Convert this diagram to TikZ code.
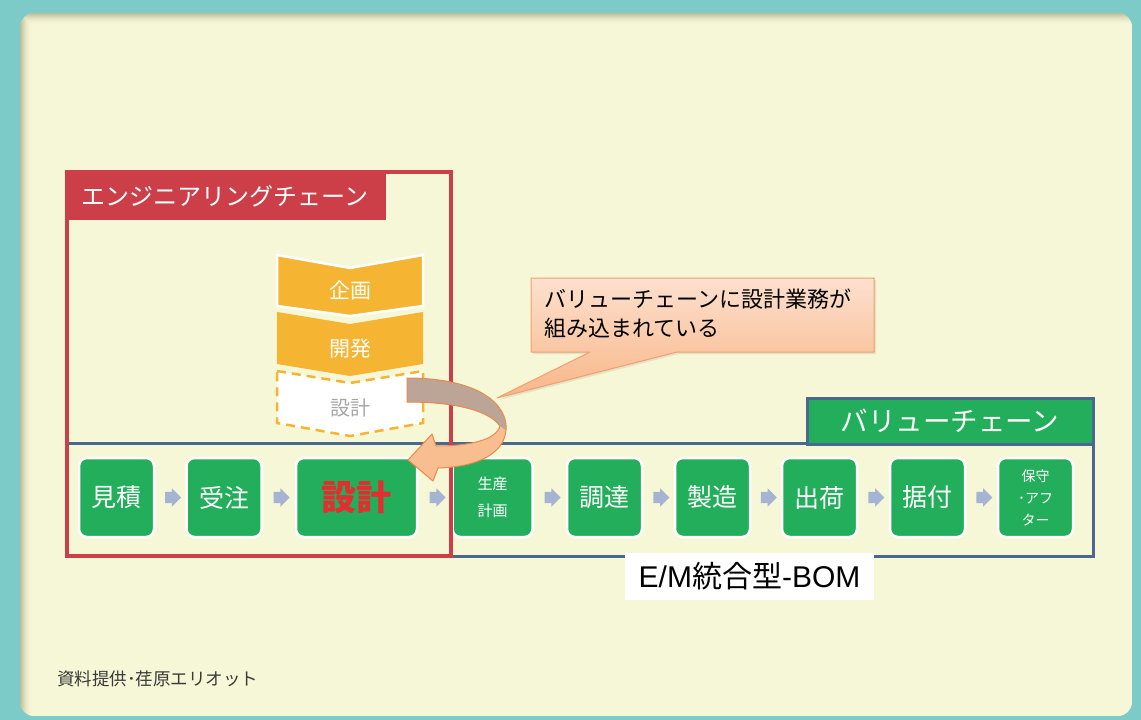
\documentclass[tikz,border=0pt]{standalone}
\usepackage{fontspec}
\setmainfont{Noto Sans CJK JP}
\newfontfamily\lib{Liberation Sans}
\usetikzlibrary{shapes.arrows,calc}
\definecolor{cteal}{HTML}{7CCBC8}
\definecolor{ccream}{HTML}{F6F7D6}
\definecolor{cshadow}{HTML}{8E8C6A}
\definecolor{cred}{HTML}{CC3F48}
\definecolor{cblue}{HTML}{4A6790}
\definecolor{cgreen}{HTML}{22AE5A}
\definecolor{corange}{HTML}{F5B431}
\definecolor{carrow}{HTML}{A6B4D4}
\definecolor{ccalltop}{HTML}{FDE0CE}
\definecolor{ccallbot}{HTML}{F8B687}
\definecolor{ccallline}{HTML}{F0A070}
\definecolor{cback}{HTML}{BCA597}
\definecolor{cfront}{HTML}{F9BE90}
\definecolor{cbandline}{HTML}{EA8A4E}
\definecolor{cdesign}{HTML}{E52D2F}
\definecolor{cgraytext}{HTML}{A6A6A6}
\definecolor{cfoot}{HTML}{3A3A3A}
\tikzset{
  gbox/.style={draw=white, line width=2.5pt, fill=cgreen, rounded corners=8pt,
    minimum height=79pt, minimum width=75pt, text=white, inner sep=0pt,
    font=\fontsize{25}{30}\selectfont},
  flowarrow/.style={single arrow, fill=carrow, draw=none, minimum height=16pt,
    inner xsep=0pt, inner ysep=5.5pt, single arrow head extend=3.5pt,
    single arrow head indent=0pt},
  chev/.style={fill=corange, draw=white, line width=2.5pt, line join=miter},
  chevtext/.style={text=white, font=\fontsize{21}{25}\selectfont, inner sep=0pt},
}
\begin{document}
\begin{tikzpicture}[x=1pt,y=-1pt]
\useasboundingbox (0,0) rectangle (1141,720);
\fill[cteal] (0,0) rectangle (1141,720);
% panel
\begin{scope}
  \clip[rounded corners=14pt] (20,13) rectangle (1132,716);
  \fill[ccream] (20,13) rectangle (1132,716);
  \foreach \i in {0,...,11}{
    \pgfmathsetmacro{\op}{0.55*(1-\i/12)^2}
    \draw[cshadow, line width=1pt, opacity=\op] (20.5+\i,716) -- (20.5+\i,13.5+\i) -- (1132,13.5+\i);
  }
\end{scope}

% value chain frame
\draw[cblue, line width=3pt] (67,443) rectangle (1093,556);
\node[fill=cgreen, draw=cblue, line width=3pt, minimum width=286pt, minimum height=46pt,
  text=white, font=\fontsize{27.5}{30}\selectfont, inner sep=0pt] (vctab) at (950,421) {バリューチェーン};

% green process boxes
\node[gbox] (b1) at (116.5,497.5) {見積};
\node[gbox] (b2) at (224,497.5) {受注};
\node[gbox, minimum width=121pt, text=cdesign, font=\fontsize{35}{40}\selectfont\bfseries] (b3) at (356.5,497.5) {設計};
\node[gbox, minimum width=80pt, align=center, font=\fontsize{15}{27}\selectfont] (b4) at (492.5,497.5) {生産\\計画};
\node[gbox] (b5) at (604.5,497.5) {調達};
\node[gbox] (b6) at (712.5,497.5) {製造};
\node[gbox] (b7) at (819.5,497.5) {出荷};
\node[gbox] (b8) at (927.5,497.5) {据付};
\node[gbox, align=center, font=\fontsize{14}{22}\selectfont] (b9) at (1035.5,497.5) {保守\\･アフ\\ター};

\foreach \a/\b in {b1/b2,b2/b3,b3/b4,b4/b5,b5/b6,b6/b7,b7/b8,b8/b9}{
  \node[flowarrow] (arr-\a) at ($(\a.east)!0.5!(\b.west)$) {};
}

% E/M label
\node[fill=white, minimum width=249pt, minimum height=47pt, inner sep=0pt,
  font=\fontsize{30}{34}\selectfont, text=black] (bom) at (749.5,576)
  {{\lib E/M}統合型{\lib -BOM}};

% engineering chain frame
\draw[cred, line width=3.5pt] (67,172) rectangle (451,556);
\fill[cred] (67,172) rectangle (386,220);
\node[anchor=west, text=white, font=\fontsize{24}{28}\selectfont, inner sep=0pt] (ectitle) at (81,196) {エンジニアリングチェーン};

% chevrons
\draw[chev] (277,255) -- (350,268) -- (423,255) -- (423,306) -- (350,316) -- (277,306) -- cycle;
\fill[corange] (277,312) -- (350,324) -- (423,312) -- (423,364) -- (350,376) -- (277,364) -- cycle;
\draw[fill=white, draw=corange, line width=2.5pt, dash pattern=on 9pt off 6pt]
  (277,371) -- (350,383) -- (423,371) -- (423,423) -- (350,436) -- (277,423) -- cycle;
\node[chevtext] (plan) at (350,290) {企画};
\node[chevtext] (dev) at (350,349) {開発};
\node[chevtext, text=cgraytext, font=\fontsize{20}{24}\selectfont] (des) at (350,408) {設計};

% curved arrow
\fill[cfront]
  (407,378) .. controls (480,378) and (508,405) .. (506,430)
  .. controls (504,455) and (475,467) .. (438,468)
  -- (433,481) -- (408,460) -- (432,434) -- (436,446)
  .. controls (470,446) and (496,440) .. (500,426)
  .. controls (490,412) and (460,402) .. (407,402) -- cycle;
\fill[cback]
  (407,378) .. controls (480,378) and (508,405) .. (506,430)
  -- (500,426) .. controls (490,412) and (460,402) .. (407,402) -- cycle;
\draw[cbandline, line width=1pt, line join=round]
  (407,378) .. controls (480,378) and (508,405) .. (506,430)
  .. controls (504,455) and (475,467) .. (438,468)
  -- (433,481) -- (408,460) -- (432,434) -- (436,446)
  .. controls (470,446) and (496,440) .. (500,426)
  .. controls (490,412) and (460,402) .. (407,402) -- cycle;

% callout
\fill[black, opacity=0.08] (533,280) -- (876,280) -- (876,354) -- (679,354) -- (499,400) -- (592,354) -- (533,354) -- cycle;
\shade[top color=ccalltop, bottom color=ccallbot]
  (531,278) -- (874,278) -- (874,352) -- (677,352) -- (497,398) -- (590,352) -- (531,352) -- cycle;
\draw[ccallline, line width=1pt, line join=round]
  (531,278) -- (874,278) -- (874,352) -- (677,352) -- (497,398) -- (590,352) -- (531,352) -- cycle;
\node[anchor=north west, align=left, inner sep=0pt, font=\fontsize{22}{29}\selectfont, text=black] (note) at (544,289)
  {バリューチェーンに設計業務が\\組み込まれている};

% footer
\node[anchor=west, inner sep=0pt, font=\fontsize{17.5}{22}\selectfont, text=cfoot] (foot) at (57,679) {資料提供･荏原エリオット};
\end{tikzpicture}
\end{document}
